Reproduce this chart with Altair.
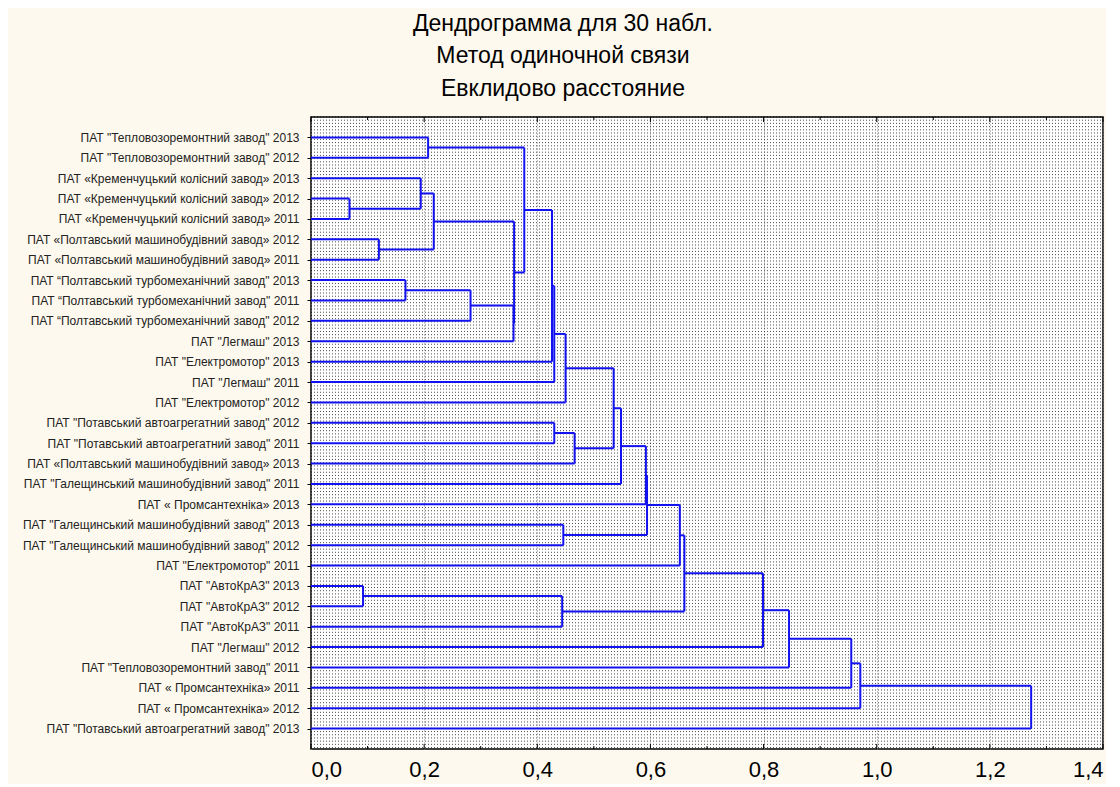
import altair as alt
import pandas as pd

labels = [
    'ПАТ "Тепловозоремонтний завод" 2013',
    'ПАТ "Тепловозоремонтний завод" 2012',
    'ПАТ «Кременчуцький колісний завод» 2013',
    'ПАТ «Кременчуцький колісний завод» 2012',
    'ПАТ «Кременчуцький колісний завод» 2011',
    'ПАТ «Полтавський машинобудівний завод» 2012',
    'ПАТ «Полтавський машинобудівний завод» 2011',
    'ПАТ “Полтавський турбомеханічний завод" 2013',
    'ПАТ “Полтавський турбомеханічний завод" 2011',
    'ПАТ “Полтавський турбомеханічний завод" 2012',
    'ПАТ "Легмаш" 2013',
    'ПАТ "Електромотор" 2013',
    'ПАТ "Легмаш" 2011',
    'ПАТ "Електромотор" 2012',
    'ПАТ "Потавський автоагрегатний завод" 2012',
    'ПАТ "Потавський автоагрегатний завод" 2011',
    'ПАТ «Полтавський машинобудівний завод» 2013',
    'ПАТ "Галещинський машинобудівний завод" 2011',
    'ПАТ « Промсантехніка» 2013',
    'ПАТ "Галещинський машинобудівний завод" 2013',
    'ПАТ "Галещинський машинобудівний завод" 2012',
    'ПАТ "Електромотор" 2011',
    'ПАТ "АвтоКрАЗ" 2013',
    'ПАТ "АвтоКрАЗ" 2012',
    'ПАТ "АвтоКрАЗ" 2011',
    'ПАТ "Легмаш" 2012',
    'ПАТ "Тепловозоремонтний завод" 2011',
    'ПАТ « Промсантехніка» 2011',
    'ПАТ « Промсантехніка» 2012',
    'ПАТ "Потавський автоагрегатний завод" 2013',
]

# merges: child ids (0..29 leaves, 30+k = k-th merge), linkage distance
merge_a = [3, 22, 5, 7, 2, 0, 34, 33, 37, 36, 35, 40, 41, 14, 31, 19, 42, 43,
           46, 48, 49, 50, 51, 52, 53, 54, 55, 56, 57]
merge_b = [4, 23, 6, 8, 30, 1, 32, 9, 10, 38, 39, 11, 12, 15, 24, 20, 13, 16,
           47, 17, 18, 45, 21, 44, 25, 26, 27, 28, 29]
merge_h = [0.068, 0.092, 0.120, 0.167, 0.194, 0.207, 0.217, 0.282, 0.358, 0.359,
           0.377, 0.426, 0.430, 0.430, 0.444, 0.446, 0.450, 0.466, 0.535, 0.548,
           0.592, 0.594, 0.652, 0.660, 0.799, 0.845, 0.955, 0.971, 1.273]

title_lines = ["Дендрограмма для 30 набл.", "Метод одиночной связи", "Евклидово расстояние"]
x_ticks = [0.0, 0.2, 0.4, 0.6, 0.8, 1.0, 1.2, 1.4]

# build dendrogram segments from the merge table
n = len(labels)
pos = {i: float(i) for i in range(n)}
hgt = {i: 0.0 for i in range(n)}
rows = []
for k, (a, b, h) in enumerate(zip(merge_a, merge_b, merge_h)):
    rows.append(dict(x=hgt[a], x2=h, y=pos[a], y2=pos[a]))
    rows.append(dict(x=hgt[b], x2=h, y=pos[b], y2=pos[b]))
    rows.append(dict(x=h, x2=h, y=pos[a], y2=pos[b]))
    pos[n + k] = (pos[a] + pos[b]) / 2
    hgt[n + k] = h
seg = pd.DataFrame(rows)

W, H = 792, 632
FONT = "Liberation Sans"

label_arr = "[" + ",".join("'" + s + "'" for s in labels) + "]"

xscale = alt.Scale(domain=[0, 1.4], nice=False, zero=False)
yscale = alt.Scale(domain=[-1, 30], reverse=True, nice=False, zero=False)

xaxis = alt.Axis(values=x_ticks,
                 labelExpr="replace(format(datum.value, '.1f'), '.', ',')",
                 labelFontSize=22, labelFont=FONT, labelColor="#000",
                 labelPadding=10, tickSize=0, domain=False,
                 grid=True, gridColor="#888888", gridDash=[1, 2], gridWidth=1)
yaxis = alt.Axis(values=list(range(n)), labelExpr=label_arr + "[datum.value]",
                 labelFontSize=12, labelFont=FONT, labelColor="#222",
                 labelPadding=8, tickSize=4, tickColor="#000", domain=False,
                 grid=False, labelLimit=400)

# dotted background texture (rows of dots)
dots = alt.Chart(alt.sequence(-1, 30, 0.157, as_="d")).mark_rule(
    color="#000000", strokeWidth=1, strokeDash=[1, 2], opacity=0.7
).encode(
    y=alt.Y("d:Q", scale=yscale, axis=yaxis, title=None),
    x=alt.value(0),
    x2=alt.value(W),
)

tree = alt.Chart(seg).mark_rule(color="#1212f0", strokeWidth=2).encode(
    x=alt.X("x:Q", scale=xscale, title=None, axis=xaxis),
    x2="x2:Q",
    y=alt.Y("y:Q", scale=yscale, title=None, axis=yaxis),
    y2="y2:Q",
)

def ticks(start, length, top):
    y0 = 0 if top else H
    y1 = length if top else H - length
    return alt.Chart(alt.sequence(start, 1.41, 0.2, as_="t")).mark_rule(
        color="#000", strokeWidth=1).encode(
        x=alt.X("t:Q", scale=xscale, axis=xaxis, title=None),
        y=alt.value(y0), y2=alt.value(y1))

chart = alt.layer(
    dots, tree,
    ticks(0, 5, False), ticks(0.1, 3, False), ticks(0, 5, True), ticks(0.1, 3, True),
).properties(
    width=W, height=H,
    title=alt.TitleParams(text=title_lines, fontSize=23, font=FONT, fontWeight="normal",
                          color="#000", anchor="middle", frame="bounds",
                          lineHeight=32.5, offset=16),
    padding={"left": 14, "top": 4, "right": 2, "bottom": 4},
    background="#fef9ee",
).configure_view(
    stroke="#000", strokeWidth=1.5, fill="#ffffff"
)

chart.save("out.html", embed_options={"renderer": "svg", "actions": False})
